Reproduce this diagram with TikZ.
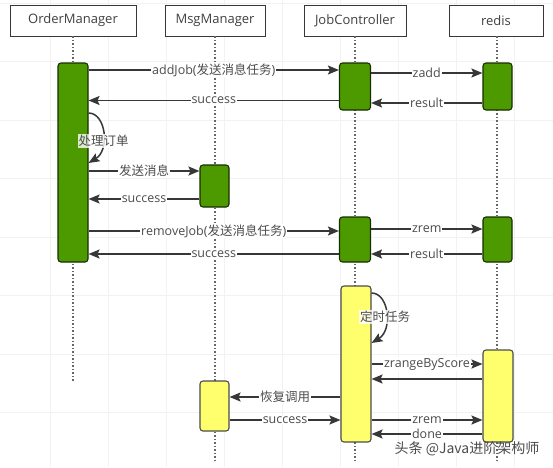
\documentclass[tikz,border=0pt]{standalone}
\usepackage{fontspec}
\setmainfont{Open Sans}
\newfontfamily\cjk{Noto Sans CJK SC}
\usepackage{tikz}
\usetikzlibrary{arrows.meta}
\usepackage{xcolor}
\definecolor{actgreen}{RGB}{77,153,0}
\definecolor{actyellow}{RGB}{255,255,110}
\definecolor{msgline}{RGB}{55,55,55}
\definecolor{txtgray}{RGB}{75,75,75}

\tikzset{
	head/.style={draw=msgline, fill=white, line width=0.9pt, minimum height=31, text=black!75, inner sep=0pt, font=\fontsize{13}{15}\selectfont},
	life/.style={draw=black!60, line width=1.3pt, dash pattern=on 1.3pt off 2.2pt},
	actg/.style={draw=black!70!actgreen, fill=actgreen, line width=1.1pt, rounded corners=3pt, inner sep=0pt},
	acty/.style={draw=black!70, fill=actyellow, line width=1.1pt, rounded corners=3pt, inner sep=0pt},
	msg/.style={draw=msgline, line width=1.5pt, -{Stealth[length=11pt,width=9pt,inset=2pt]}},
	lbl/.style={fill=white, inner sep=1pt, text=txtgray, font=\fontsize{12.5}{14}\selectfont},
}
\newcommand{\zh}[1]{{\cjk #1}}

\begin{document}
\begin{tikzpicture}[x=1pt,y=-1pt]
	\useasboundingbox (0,0) rectangle (553,467);
	\fill[white] (0,0) rectangle (553,467);
	% faint grid
	\foreach \gx in {50,108,166,224,282,340,398,456,514}
		\draw[black!5, line width=0.6pt] (\gx,0) -- (\gx,467);
	\foreach \gy in {3,61,120,178,237,295,354,412}
		\draw[black!5, line width=0.6pt] (0,\gy) -- (553,\gy);

	% heads
	\node[head, minimum width=126] (om) at (73,20.5) {OrderManager};
	\node[head, minimum width=100] (mm) at (215,20.5) {MsgManager};
	\node[head, minimum width=102] (jc) at (355,20.5) {JobController};
	\node[head, minimum width=94] (rd) at (496,20.5) {redis};

	% lifelines
	\draw[life] (om.south) -- (om.south |- 0,382);
	\draw[life] (mm.south) -- (mm.south |- 0,462);
	\draw[life] (jc.south) -- (jc.south |- 0,462);
	\draw[life] ([xshift=1pt]rd.south) -- ([xshift=1pt]rd.south |- 0,460);

	% activations
	\node[actg, minimum width=30, minimum height=199] (om1) at (73,162.5) {};
	\node[actg, minimum width=31, minimum height=47] (jc1) at (355,86.5) {};
	\node[actg, minimum width=29, minimum height=47] (rd1) at (497.5,86.5) {};
	\node[actg, minimum width=29, minimum height=42] (mm1) at (214.5,186) {};
	\node[actg, minimum width=31, minimum height=45] (jc2) at (355,239.5) {};
	\node[actg, minimum width=29, minimum height=45] (rd2) at (497.5,239.5) {};
	\node[acty, minimum width=30, minimum height=156] (jc3) at (356,364) {};
	\node[acty, minimum width=30, minimum height=92] (rd3) at (498,396) {};
	\node[acty, minimum width=29, minimum height=50] (mm3) at (214.5,406) {};

	% messages
	\draw[msg] (om1.east |- 0,70) -- node[midway, lbl] {addJob(\zh{发送消息任务})} (jc1.west |- 0,70);
	\draw[msg] (jc1.west |- 0,100.5) -- node[midway, lbl] {success} (om1.east |- 0,100.5);
	\draw[msg] (jc1.east |- 0,73) -- node[midway, lbl] {zadd} (rd1.west |- 0,73);
	\draw[msg] (rd1.west |- 0,103) -- node[midway, lbl] {result} (jc1.east |- 0,103);
	\draw[msg] (om1.east |- 0,113) .. controls (106,113) and (110,150) .. (om1.east |- 0,163);
	\node[lbl, fill opacity=0.8, text opacity=1] (l1) at (103.5,141) {\zh{处理订单}};
	\draw[msg] (om1.east |- 0,171) -- node[midway, lbl] {\zh{发送消息}} (mm1.west |- 0,171);
	\draw[msg] (mm1.west |- 0,199) -- node[midway, lbl] {success} (om1.east |- 0,199);
	\draw[msg] (om1.east |- 0,231) -- node[midway, lbl] {removeJob(\zh{发送消息任务})} (jc2.west |- 0,231);
	\draw[msg] (jc2.west |- 0,254) -- node[midway, lbl] {success} (om1.east |- 0,254);
	\draw[msg] (jc2.east |- 0,229) -- node[midway, lbl] {zrem} (rd2.west |- 0,229);
	\draw[msg] (rd2.west |- 0,254) -- node[midway, lbl] {result} (jc2.east |- 0,254);
	\draw[msg] (jc3.east |- 0,293) .. controls (389,293) and (393,330) .. (jc3.east |- 0,343);
	\node[lbl, fill opacity=0.8, text opacity=1] (l2) at (385,317) {\zh{定时任务}};
	\draw[msg] (jc3.east |- 0,364) -- node[midway, lbl] {zrangeByScore} (rd3.west |- 0,364);
	\draw[msg] (rd3.west |- 0,379) -- (jc3.east |- 0,379);
	\draw[msg] (jc3.west |- 0,397) -- node[midway, lbl] {\zh{恢复调用}} (mm3.east |- 0,397);
	\draw[msg] (mm3.east |- 0,420) -- node[midway, lbl] {success} (jc3.west |- 0,420);
	\draw[msg] (jc3.east |- 0,420) -- node[midway, lbl] {zrem} (rd3.west |- 0,420);
	\draw[msg] (rd3.west |- 0,434) -- node[midway, lbl, inner ysep=0pt] {done} (jc3.east |- 0,434);

	% watermark
	\node[text=black!70, font=\fontsize{14}{16}\selectfont, inner sep=0pt] (wm) at (467,449) {\zh{头条 @Java进阶架构师}};
\end{tikzpicture}
\end{document}
